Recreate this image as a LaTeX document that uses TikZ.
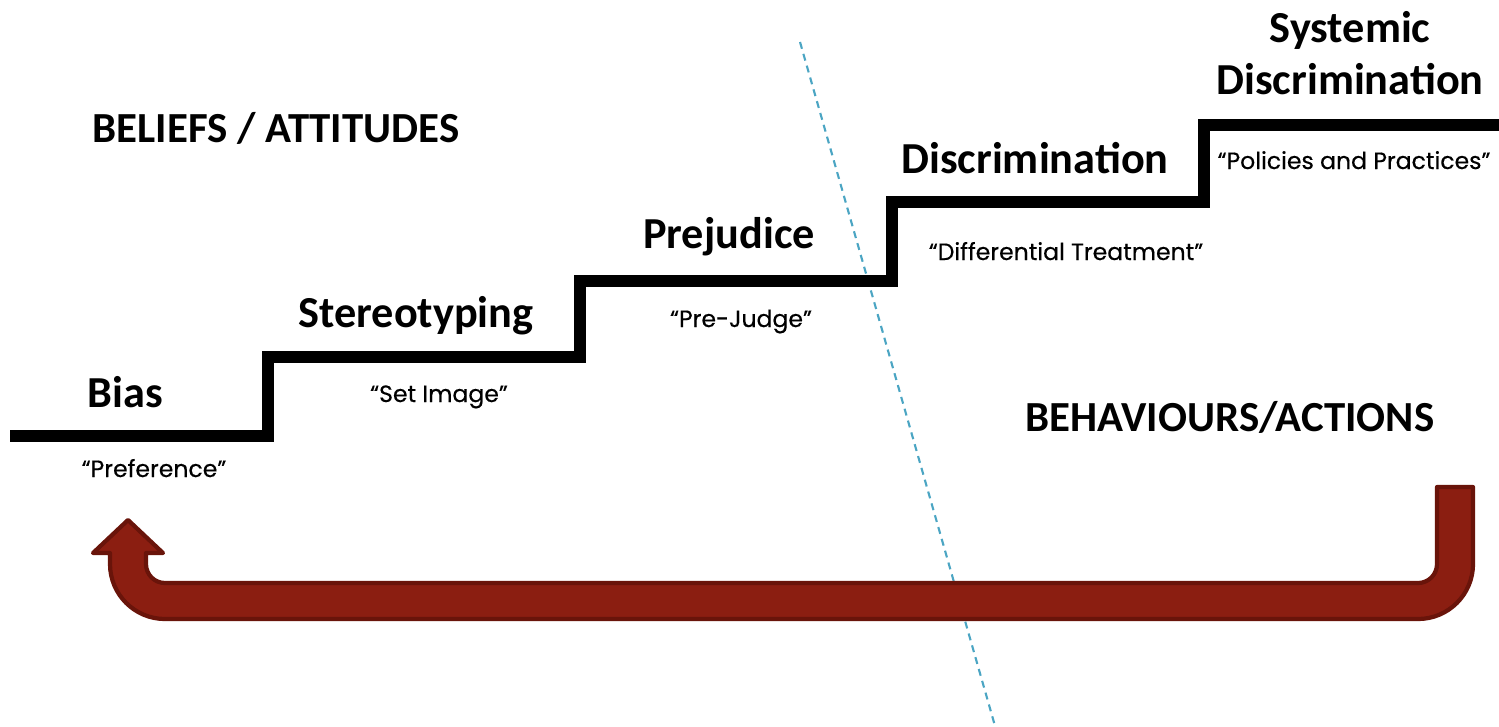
\documentclass[tikz,border=0pt]{standalone}
\usepackage{fontspec}
\setmainfont{Carlito}
\newfontfamily\quotefont{Poppins}[FakeBold=0.4]
\usepackage{xcolor}
\definecolor{stairblack}{RGB}{0,0,0}
\definecolor{divblue}{RGB}{75,165,195}
\definecolor{loopred}{RGB}{139,30,17}
\definecolor{loopdark}{RGB}{105,20,10}
\usetikzlibrary{positioning}

\tikzset{
  stepname/.style={font=\fontsize{12.6}{15}\selectfont\bfseries, anchor=base},
  sidename/.style={font=\fontsize{12.2}{14}\selectfont\bfseries, anchor=base},
  quotename/.style={font=\quotefont\fontsize{6.7}{8}\selectfont, anchor=base}
}

\begin{document}
\begin{tikzpicture}
  \useasboundingbox (0,0) rectangle (14.99,7.26);

  % Divider between beliefs and behaviours
  \coordinate (divtop) at (8.00,6.84);
  \coordinate (divbot) at (9.95,0.00);
  \draw[divblue, line width=0.6pt, dash pattern=on 2pt off 1.5pt] (divtop) -- (divbot);

  % Staircase
  \draw[stairblack, line width=0.12cm]
    (0.10,2.90) -- (2.68,2.90) -- (2.68,3.69) -- (5.80,3.69) -- (5.80,4.45)
    -- (8.92,4.45) -- (8.92,5.24) -- (12.04,5.24) -- (12.04,6.01) -- (14.99,6.01);

  % Side headings
  \node[sidename] (beliefs) at (2.76,5.84) {BELIEFS / ATTITUDES};
  \node[sidename] (actions) at (12.30,2.95) {BEHAVIOURS/ACTIONS};

  % Step 1: Bias
  \node[stepname] (bias) at (1.25,3.19) {Bias};
  \node[quotename] (biasq) at (1.54,2.49) {“Preference”};

  % Step 2: Stereotyping
  \node[stepname] (stereo) at (4.16,3.99) {Stereotyping};
  \node[quotename] (stereoq) at (4.39,3.24) {“Set Image”};

  % Step 3: Prejudice
  \node[stepname] (prej) at (7.29,4.78) {Prejudice};
  \node[quotename] (prejq) at (7.41,3.99) {“Pre-Judge”};

  % Step 4: Discrimination
  \node[stepname] (discr) at (10.35,5.53) {Discrimination};
  \node[quotename] (discrq) at (10.66,4.66) {“Differential Treatment”};

  % Step 5: Systemic discrimination
  \node[stepname] (sys1) at (13.50,6.84) {Systemic};
  \node[stepname] (sys2) at (13.50,6.32) {Discrimination};
  \node[quotename] (sysq) at (13.54,5.57) {“Policies and Practices”};

  % Feedback arrow
  \draw[fill=loopred, draw=loopdark, line width=1.2pt, line join=round]
    (14.73,2.39) -- (14.73,1.62) arc[start angle=0, end angle=-90, radius=0.55]
    -- (1.65,1.07) arc[start angle=270, end angle=180, radius=0.55]
    -- (1.10,1.73) -- (0.93,1.73) -- (1.28,2.06) -- (1.63,1.73) -- (1.46,1.73)
    -- (1.46,1.62) arc[start angle=180, end angle=270, radius=0.19]
    -- (14.18,1.43) arc[start angle=-90, end angle=0, radius=0.19]
    -- (14.37,2.39) -- cycle;
\end{tikzpicture}
\end{document}
